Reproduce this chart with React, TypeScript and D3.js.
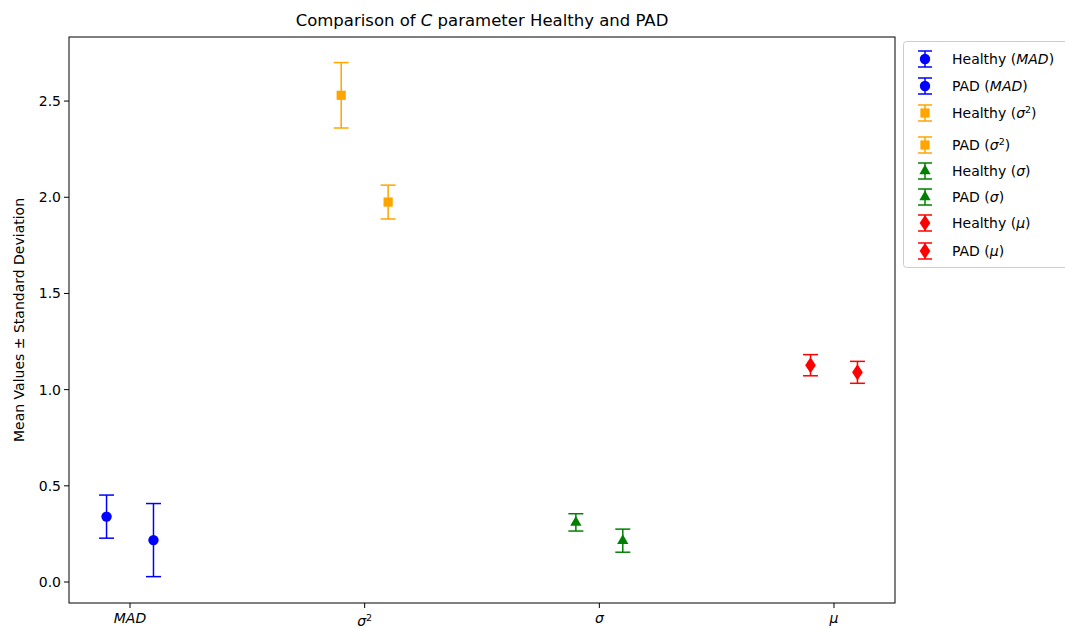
import React from 'react';
import * as d3 from 'd3';

const categories = ['MAD', 'σ²', 'σ', 'μ'];
const groups = ['Healthy', 'PAD'];
const healthyMeans = [0.34, 2.53, 0.31, 1.127];
const healthyStd = [0.112, 0.17, 0.045, 0.055];
const padMeans = [0.218, 1.975, 0.215, 1.09];
const padStd = [0.19, 0.088, 0.06, 0.057];
const colors = ['blue', 'orange', 'green', 'red'];
const markers = ['circle', 'square', 'triangle', 'diamond'];
const yTicks = [0, 0.5, 1.0, 1.5, 2.0, 2.5];

const W = 1065, H = 628;
const margin = { left: 69, right: 895, top: 37, bottom: 603 };
const font = 'DejaVu Sans, sans-serif';

const x = d3.scaleLinear().domain([-0.26, 3.26]).range([margin.left, margin.right]);
const y = d3.scaleLinear().domain([-0.109, 2.833]).range([margin.bottom, margin.top]);

const symbolOf: Record<string, d3.SymbolType> = {
  circle: d3.symbolCircle,
  square: d3.symbolSquare,
  triangle: d3.symbolTriangle,
  diamond: d3.symbolDiamond,
};
const sizeOf: Record<string, number> = { circle: 85, square: 85, triangle: 55, diamond: 75 };

const Marker = ({ kind, color, cx, cy }: { kind: string; color: string; cx: number; cy: number }) => {
  const path = d3.symbol().type(symbolOf[kind]).size(sizeOf[kind])();
  const sx = kind === 'diamond' ? 'scale(1.15,1)' : '';
  return <path d={path || ''} transform={`translate(${cx},${cy}) ${sx}`} fill={color} />;
};

const CatLabel = ({ i }: { i: number }) => {
  if (i === 1) return <tspan fontStyle="italic">σ<tspan fontSize={9.5} baselineShift="super" fontStyle="normal">2</tspan></tspan>;
  return <tspan fontStyle="italic">{categories[i]}</tspan>;
};

const ErrPoint = ({ px, mean, sd, color, kind }: any) => (
  <g stroke={color} strokeWidth={1.5}>
    <line x1={px} x2={px} y1={y(mean - sd)} y2={y(mean + sd)} />
    <line x1={px - 7.5} x2={px + 7.5} y1={y(mean - sd)} y2={y(mean - sd)} />
    <line x1={px - 7.5} x2={px + 7.5} y1={y(mean + sd)} y2={y(mean + sd)} />
    <g stroke="none"><Marker kind={kind} color={color} cx={px} cy={y(mean)} /></g>
  </g>
);

export default function App() {
  const legendRows: { g: number; c: number }[] = [];
  categories.forEach((_, c) => groups.forEach((_, g) => legendRows.push({ g, c })));
  const rowY = [59, 86, 113, 145, 171, 197, 223, 251];

  return (
    <svg width={W} height={H} style={{ position: 'absolute', left: 0, top: 0 }} fontFamily={font}>
      <rect width={W} height={H} fill="white" />
      <text x={(margin.left + margin.right) / 2} y={26} textAnchor="middle" fontSize={16.5} fill="#000">
        Comparison of <tspan fontStyle="italic">C</tspan> parameter Healthy and PAD
      </text>

      {categories.map((_, i) => (
        <g key={i}>
          <ErrPoint px={x(i - 0.1)} mean={healthyMeans[i]} sd={healthyStd[i]} color={colors[i]} kind={markers[i]} />
          <ErrPoint px={x(i + 0.1)} mean={padMeans[i]} sd={padStd[i]} color={colors[i]} kind={markers[i]} />
        </g>
      ))}

      <rect x={margin.left} y={margin.top} width={margin.right - margin.left} height={margin.bottom - margin.top}
        fill="none" stroke="#000" strokeWidth={1} />

      {yTicks.map(t => (
        <g key={t}>
          <line x1={margin.left - 5} x2={margin.left} y1={y(t)} y2={y(t)} stroke="#000" />
          <text x={margin.left - 8} y={y(t)} dy="0.35em" textAnchor="end" fontSize={14} fill="#000">{t.toFixed(1)}</text>
        </g>
      ))}
      {categories.map((_, i) => (
        <g key={i}>
          <line x1={x(i)} x2={x(i)} y1={margin.bottom} y2={margin.bottom + 5} stroke="#000" />
          <text x={x(i)} y={i === 1 ? 626 : 623} textAnchor="middle" fontSize={14} fill="#000"><CatLabel i={i} /></text>
        </g>
      ))}
      <text transform={`translate(24,${(margin.top + margin.bottom) / 2}) rotate(-90)`} textAnchor="middle" fontSize={14} fill="#000">
        Mean Values ± Standard Deviation
      </text>

      <rect x={903.5} y={41.5} width={170} height={226} rx={3} fill="white" stroke="#cccccc" />
      {legendRows.map(({ g, c }, k) => {
        const ry = rowY[k];
        const col = colors[c];
        return (
          <g key={k}>
            <g stroke={col} strokeWidth={1.5}>
              <line x1={925} x2={925} y1={ry - 8} y2={ry + 8} />
              <line x1={918} x2={932} y1={ry - 8} y2={ry - 8} />
              <line x1={918} x2={932} y1={ry + 8} y2={ry + 8} />
              <g stroke="none"><Marker kind={markers[c]} color={col} cx={925} cy={ry} /></g>
            </g>
            <text x={952} y={ry} dy="0.35em" fontSize={14} fill="#000">
              {groups[g]} (<CatLabel i={c} />)
            </text>
          </g>
        );
      })}
    </svg>
  );
}
